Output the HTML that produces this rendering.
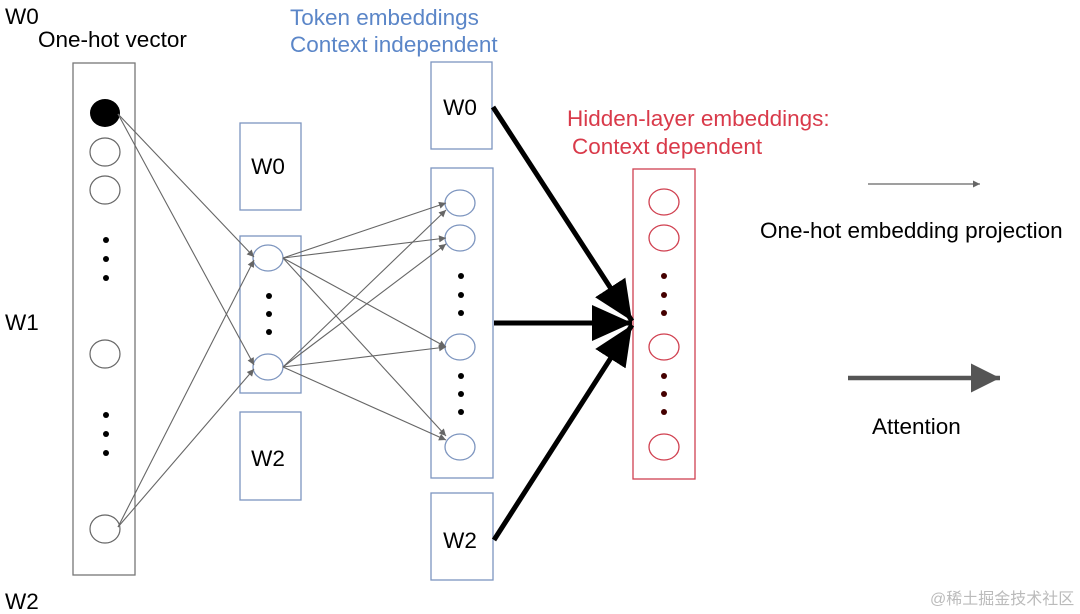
<!DOCTYPE html>
<html><head><meta charset="utf-8"><style>
html,body{margin:0;padding:0;background:#fff;}
svg{display:block;}
text{font-family:"Liberation Sans","Noto Sans CJK SC",sans-serif;}
</style></head><body>
<svg width="1080" height="614" viewBox="0 0 1080 614" xmlns="http://www.w3.org/2000/svg">
<defs>
<marker id="a" viewBox="0 0 10 10" refX="10" refY="5" markerWidth="8" markerHeight="7" markerUnits="userSpaceOnUse" orient="auto"><path d="M0,0L10,5L0,10z" fill="#666"/></marker>
<marker id="b" viewBox="0 0 10 10" refX="10" refY="5" markerWidth="8" markerHeight="8" orient="auto"><path d="M0,0.5L10,5L0,9.5z" fill="#000"/></marker>
<marker id="g" viewBox="0 0 10 10" refX="10" refY="5" markerWidth="6.5" markerHeight="6.5" orient="auto"><path d="M0,0L10,5L0,10z" fill="#555"/></marker>
</defs>
<rect width="1080" height="614" fill="#fff"/>
<g font-size="22.5">
<text x="5" y="24">W0</text>
<text x="5" y="330">W1</text>
<text x="5" y="609">W2</text>
<text x="38" y="47">One-hot vector</text>
<text x="290" y="25" fill="#5b86c8">Token embeddings</text>
<text x="290" y="52" fill="#5b86c8">Context independent</text>
<text x="567" y="126" fill="#d93a4a">Hidden-layer embeddings:</text>
<text x="572" y="154" fill="#d93a4a">Context dependent</text>
<text x="760" y="238">One-hot embedding projection</text>
<text x="872" y="434">Attention</text>
<text x="268" y="174" text-anchor="middle">W0</text>
<text x="268" y="466" text-anchor="middle">W2</text>
<text x="460" y="115" text-anchor="middle">W0</text>
<text x="460" y="548" text-anchor="middle">W2</text>
</g>
<text x="930" y="604" font-size="16" fill="#bbb">@稀土掘金技术社区</text>

<rect x="73" y="63" width="62" height="512" fill="none" stroke="#777" stroke-width="1.3"/>
<ellipse cx="105" cy="113" rx="15" ry="14" fill="#000"/>
<g fill="none" stroke="#666" stroke-width="1.2">
<ellipse cx="105" cy="152" rx="15" ry="14"/>
<ellipse cx="105" cy="190" rx="15" ry="14"/>
<ellipse cx="105" cy="354" rx="15" ry="14"/>
<ellipse cx="105" cy="529" rx="15" ry="14"/>
</g>
<g fill="#000"><circle cx="106" cy="240" r="3"/><circle cx="106" cy="259" r="3"/><circle cx="106" cy="278" r="3"/><circle cx="106" cy="415" r="3"/><circle cx="106" cy="434" r="3"/><circle cx="106" cy="453" r="3"/></g>

<g fill="none" stroke="#7d95bf" stroke-width="1.3">
<rect x="240" y="123" width="61" height="87"/>
<rect x="240" y="236" width="61" height="157"/>
<rect x="240" y="412" width="61" height="88"/>
<ellipse cx="268" cy="258" rx="15" ry="13"/>
<ellipse cx="268" cy="367" rx="15" ry="13"/>
<rect x="431" y="62" width="61" height="87"/>
<rect x="431" y="168" width="62" height="310"/>
<rect x="431" y="493" width="62" height="87"/>
<ellipse cx="460" cy="203" rx="15" ry="13"/>
<ellipse cx="460" cy="238" rx="15" ry="13"/>
<ellipse cx="460" cy="347" rx="15" ry="13"/>
<ellipse cx="460" cy="447" rx="15" ry="13"/>
</g>
<g fill="#000"><circle cx="269" cy="296" r="3"/><circle cx="269" cy="314" r="3"/><circle cx="269" cy="332" r="3"/>
<circle cx="461" cy="276" r="3"/><circle cx="461" cy="295" r="3"/><circle cx="461" cy="313" r="3"/>
<circle cx="461" cy="376" r="3"/><circle cx="461" cy="394" r="3"/><circle cx="461" cy="412" r="3"/></g>

<g fill="none" stroke="#d04050" stroke-width="1.3">
<rect x="633" y="169" width="62" height="310"/>
<ellipse cx="664" cy="202" rx="15" ry="13"/>
<ellipse cx="664" cy="238" rx="15" ry="13"/>
<ellipse cx="664" cy="347" rx="15" ry="13"/>
<ellipse cx="664" cy="447" rx="15" ry="13"/>
</g>
<g fill="#400"><circle cx="664" cy="276" r="3"/><circle cx="664" cy="295" r="3"/><circle cx="664" cy="313" r="3"/><circle cx="664" cy="376" r="3"/><circle cx="664" cy="394" r="3"/><circle cx="664" cy="412" r="3"/></g>

<g stroke="#666" stroke-width="1.1" marker-end="url(#a)">
<line x1="118" y1="114" x2="254" y2="257"/>
<line x1="118" y1="114" x2="254" y2="365"/>
<line x1="118" y1="527" x2="254" y2="260"/>
<line x1="118" y1="527" x2="254" y2="369"/>
<line x1="283" y1="258" x2="446" y2="203"/>
<line x1="283" y1="258" x2="446" y2="238"/>
<line x1="283" y1="258" x2="446" y2="347"/>
<line x1="283" y1="258" x2="446" y2="436"/>
<line x1="283" y1="367" x2="446" y2="210"/>
<line x1="283" y1="367" x2="446" y2="244"/>
<line x1="283" y1="367" x2="446" y2="347"/>
<line x1="283" y1="367" x2="446" y2="440"/>
</g>

<g stroke="#000" stroke-width="5" marker-end="url(#b)">
<line x1="493" y1="107" x2="632" y2="321"/>
<line x1="494" y1="323" x2="632" y2="323"/>
<line x1="494" y1="540" x2="632" y2="325"/>
</g>

<line x1="868" y1="184" x2="980" y2="184" stroke="#666" stroke-width="1.2" marker-end="url(#a)"/>
<line x1="848" y1="378" x2="1000" y2="378" stroke="#555" stroke-width="4.5" marker-end="url(#g)"/>
</svg>
</body></html>
